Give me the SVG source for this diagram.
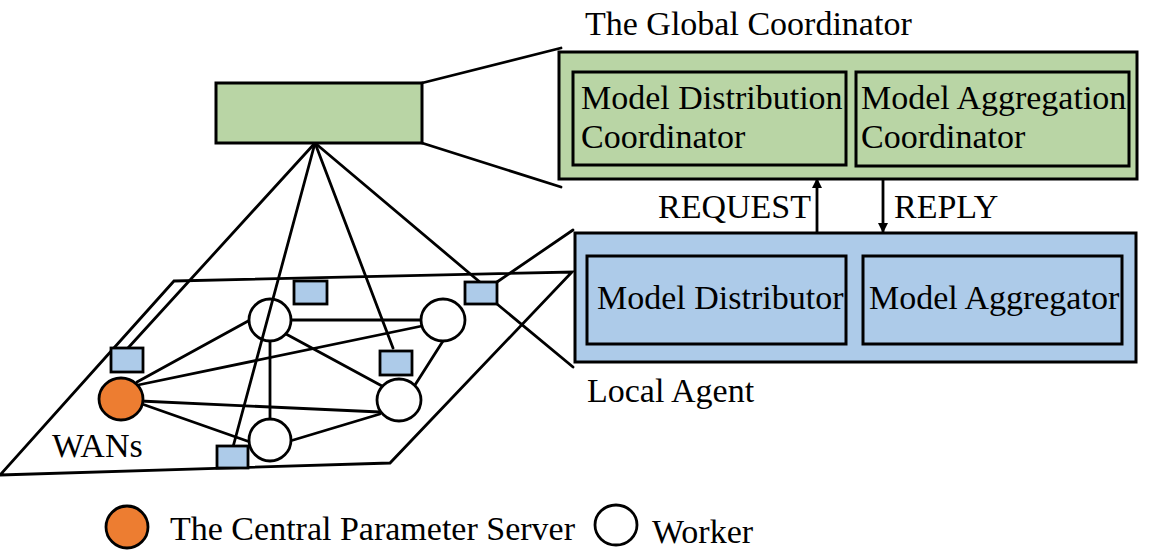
<svg xmlns="http://www.w3.org/2000/svg" width="1172" height="560" viewBox="0 0 1172 560">
  <style>
    .t { font-family: "Liberation Serif", "Times New Roman", serif; font-size: 34px; fill: #000; }
    .green { fill: #b9d5a5; stroke: #000; stroke-width: 3; }
    .blue { fill: #adcbe9; stroke: #000; stroke-width: 3; }
    .sq { fill: #adcbe9; stroke: #000; stroke-width: 2.8; }
    .ln { stroke: #000; stroke-width: 2.8; fill: none; stroke-linecap: round; }
    .worker { fill: #fff; stroke: #000; stroke-width: 2.8; }
    .ps { fill: #ed7d31; stroke: #000; stroke-width: 2.8; }
  </style>
  <defs>
    <marker id="arr" markerWidth="10" markerHeight="10" refX="9" refY="5" orient="auto" markerUnits="userSpaceOnUse">
      <path d="M0,0 L10,5 L0,10 Z" fill="#000"/>
    </marker>
  </defs>
  <rect width="1172" height="560" fill="#fff"/>

  <!-- WAN plane -->
  <g id="wan-plane">
    <polygon points="174,281 572,272 390,463 0,475" class="ln"/>
  </g>

  <g id="connectors">
    <!-- mesh edges -->
    <line class="ln" x1="137" y1="382" x2="250" y2="320"/>
    <line class="ln" x1="138" y1="385" x2="422" y2="326"/>
    <line class="ln" x1="140" y1="401" x2="380" y2="412"/>
    <line class="ln" x1="142" y1="404" x2="250" y2="442"/>
    <line class="ln" x1="290" y1="320" x2="422" y2="320"/>
    <line class="ln" x1="286" y1="334" x2="382" y2="386"/>
    <line class="ln" x1="270" y1="341" x2="270" y2="419"/>
    <line class="ln" x1="443" y1="341" x2="415" y2="385"/>
    <line class="ln" x1="290" y1="441" x2="380" y2="414"/>
    <!-- zoom lines -->
    <line class="ln" x1="422" y1="83" x2="561" y2="48"/>
    <line class="ln" x1="422" y1="143" x2="561" y2="187"/>
    <line class="ln" x1="497" y1="282" x2="573" y2="230"/>
    <line class="ln" x1="497" y1="304" x2="573" y2="367"/>
    <!-- request / reply -->
    <line class="ln" x1="817" y1="232" x2="817" y2="179" marker-end="url(#arr)"/>
    <line class="ln" x1="883" y1="180" x2="883" y2="232" marker-end="url(#arr)"/>
  </g>

  <!-- nodes in network -->
  <g id="ps"><ellipse class="ps" cx="121" cy="399" rx="22" ry="21"/></g>
  <g id="worker-a"><ellipse class="worker" cx="270" cy="320" rx="21" ry="21"/></g>
  <g id="worker-b"><ellipse class="worker" cx="443" cy="320" rx="22" ry="21"/></g>
  <g id="worker-c"><ellipse class="worker" cx="399" cy="400" rx="22" ry="21"/></g>
  <g id="worker-d"><ellipse class="worker" cx="270" cy="440" rx="21" ry="21"/></g>

  <!-- fan lines from global coordinator -->
  <g id="fan-lines">
    <line class="ln" x1="315" y1="143" x2="128" y2="348"/>
    <line class="ln" x1="315" y1="143" x2="233" y2="447"/>
    <line class="ln" x1="315" y1="143" x2="393" y2="348"/>
    <line class="ln" x1="315" y1="143" x2="481" y2="283"/>
  </g>

  <!-- local agents -->
  <g id="agent-1"><rect class="sq" x="111" y="348" width="32" height="24"/></g>
  <g id="agent-2"><rect class="sq" x="217" y="446" width="31" height="22"/></g>
  <g id="agent-3"><rect class="sq" x="294" y="281" width="33" height="23"/></g>
  <g id="agent-4"><rect class="sq" x="380" y="351" width="32" height="24"/></g>
  <g id="agent-5"><rect class="sq" x="465" y="282" width="32" height="22"/></g>

  <!-- small global coordinator -->
  <g id="global-small"><rect class="green" x="216" y="83" width="206" height="60"/></g>

  <!-- global coordinator detail -->
  <g id="global-coordinator">
    <text class="t" x="585" y="35">The Global Coordinator</text>
    <rect class="green" x="559" y="52" width="578" height="127"/>
  </g>
  <g id="mdc">
    <rect class="green" x="573" y="72" width="273" height="93"/>
    <text class="t" x="581" y="109">Model Distribution</text>
    <text class="t" x="581" y="148">Coordinator</text>
  </g>
  <g id="mac">
    <rect class="green" x="856" y="72" width="273" height="94"/>
    <text class="t" x="861" y="109">Model Aggregation</text>
    <text class="t" x="861" y="148">Coordinator</text>
  </g>

  <g id="labels">
    <text class="t" x="658" y="218">REQUEST</text>
    <text class="t" x="894" y="218">REPLY</text>
  </g>

  <!-- local agent detail -->
  <g id="local-agent">
    <rect class="blue" x="575" y="233" width="561" height="129"/>
    <text class="t" x="587" y="402">Local Agent</text>
  </g>
  <g id="md">
    <rect class="blue" x="587" y="256" width="259" height="88"/>
    <text class="t" x="597" y="309">Model Distributor</text>
  </g>
  <g id="ma">
    <rect class="blue" x="863" y="256" width="259" height="88"/>
    <text class="t" x="869" y="309">Model Aggregator</text>
  </g>

  <text class="t" x="52" y="457">WANs</text>

  <!-- legend -->
  <g id="legend">
    <ellipse class="ps" cx="127" cy="527" rx="21" ry="21"/>
    <text class="t" x="170" y="540">The Central Parameter Server</text>
    <ellipse class="worker" cx="616" cy="525" rx="21" ry="20"/>
    <text class="t" x="652" y="543">Worker</text>
  </g>
</svg>
